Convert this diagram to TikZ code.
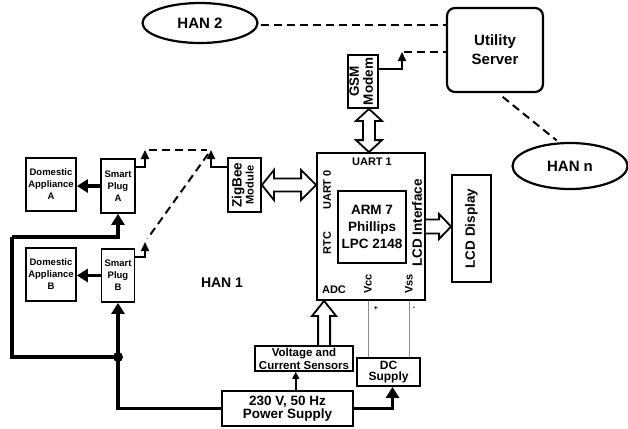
\documentclass[tikz,border=0pt]{standalone}
\usepackage{fontspec}
\setmainfont{Liberation Sans}
\usepackage{graphicx}
\usetikzlibrary{arrows.meta, positioning, calc, shapes}
\newcommand{\rotlabel}[1]{\rotatebox{90}{\begin{tabular}{@{}c@{}}#1\end{tabular}}}
\newcommand{\fsz}[2]{\fontsize{#1}{#2}\selectfont\bfseries}
\tikzset{
  box/.style={draw, line width=1.8pt, inner sep=1pt, align=center},
  han/.style={ellipse, draw, line width=2.2pt, font=\fsz{15}{18}},
  power/.style={line width=3.2pt, -{Triangle[length=11pt,width=13pt]}},
  feed/.style={line width=3.2pt},
  antenna/.style={line width=2pt, -{Triangle[length=9pt,width=8pt]}},
  link/.style={line width=2pt, dash pattern=on 8pt off 5pt},
  hollow/.style={draw, line width=1.8pt, fill=white, line join=miter},
  sig/.style={line width=1.6pt, -{Triangle[length=7pt,width=7pt]}},
  wire/.style={black!45, line width=0.9pt},
  lbl/.style={inner sep=0pt, font=\fsz{11}{13}}
}
\begin{document}
\begin{tikzpicture}[x=1pt, y=-1pt]
  \useasboundingbox (0,0) rectangle (628,428);
  % Networks and server
  \node[han, minimum width=115pt, minimum height=40pt] (han2) at (200,23) {HAN 2};
  \node[han, minimum width=115pt, minimum height=46pt] (hann) at (570,166) {HAN n};
  \node[box, rounded corners=8pt, line width=2.2pt, minimum width=96pt, minimum height=84pt,
        font=\fsz{15}{19}] (server) at (495,50) {Utility\\Server};
  % Controller
  \node[box, minimum width=108pt, minimum height=147pt] (cpu) at (371,226.5) {};
  \node[box, minimum width=68pt, minimum height=72pt, font=\fsz{13.5}{17}] (arm) at (372,227)
    {ARM 7\\Phillips\\LPC 2148};
  \node[lbl] (uart1) at (372,162) {UART 1};
  \node[lbl, rotate=90] (uart0) at (327,190) {UART 0};
  \node[lbl, rotate=90] (rtc) at (327,243) {RTC};
  \node[lbl, rotate=90, font=\fsz{13.5}{16}] (lcdif) at (417,223) {LCD Interface};
  \node[lbl] (adc) at (334,290) {ADC};
  \node[lbl, rotate=90] (vcc) at (368,284) {Vcc};
  \node[lbl, rotate=90] (vss) at (409,284) {Vss};
  % Modules
  \node[box, minimum width=23pt, minimum height=53pt, font=\fsz{13.5}{14}] (gsm) at (363,81.5)
    {\rotlabel{GSM\\Modem}};
  \node[box, minimum width=33pt, minimum height=54pt] (zigbee) at (244.5,185)
    {\rotlabel{\fsz{13.5}{14}ZigBee\\\fsz{11}{12}Module}};
  \node[box, minimum width=39pt, minimum height=107pt, font=\fsz{13.5}{16}] (lcd) at (471.5,228.5)
    {\rotatebox{90}{LCD Display}};
  % Home side
  \node[box, minimum width=50pt, minimum height=53pt, font=\fsz{9.5}{12}] (daA) at (51,184.5)
    {Domestic\\Appliance\\A};
  \node[box, minimum width=34pt, minimum height=54pt, font=\fsz{9.5}{12}] (plugA) at (118,186)
    {Smart\\Plug\\A};
  \node[box, minimum width=50pt, minimum height=53pt, font=\fsz{9.5}{12}] (daB) at (51,274.5)
    {Domestic\\Appliance\\B};
  \node[box, minimum width=33pt, minimum height=53pt, font=\fsz{9.5}{12}] (plugB) at (118,275.5)
    {Smart\\Plug\\B};
  \node[font=\fsz{14}{16}] (han1) at (222,283) {HAN 1};
  % Supplies
  \node[box, minimum width=131pt, minimum height=35pt, font=\fsz{13.5}{13.5}] (psu) at (287.5,408.5)
    {230 V, 50 Hz\\Power Supply};
  \node[box, minimum width=98pt, minimum height=25pt, font=\fsz{11.5}{13}] (sens) at (304,358.5)
    {Voltage and\\Current Sensors};
  \node[box, minimum width=63pt, minimum height=28pt, font=\fsz{12}{11}] (dc) at (388.5,372)
    {DC\\Supply};
  \node[inner sep=0pt, font=\fsz{7}{8}] (plus) at (376,308) {+};
  \node[inner sep=0pt, font=\fsz{7}{8}] (minus) at (414,308) {-};

  % Antennas
  \coordinate (antA) at (145,150);
  \coordinate (antB) at (145,242);
  \coordinate (antZ) at (211,150);
  \coordinate (antG) at (402,52);
  \draw[antenna] ($(plugA.north east)+(0,9)$) -| (antA);
  \draw[antenna] ($(plugB.north east)+(0,9)$) -| (antB);
  \draw[antenna] ($(zigbee.north west)+(0,10)$) -| (antZ);
  \draw[antenna] ($(gsm.north east)+(0,15)$) -| (antG);
  % Wireless links
  \coordinate (h2) at ($(han2.east)+(0,2)$);
  \draw[link, shorten <=4pt, shorten >=4pt] (antA) -- (antZ);
  \draw[link, shorten <=5pt, shorten >=4pt] (antZ) -- (antB);
  \draw[link, shorten <=2pt] (antG) -- (antG -| server.west);
  \draw[link, shorten <=2pt] (h2) -- (h2 -| server.west);
  \draw[link, shorten <=6pt, shorten >=3pt] ($(server.south)+(3,0)$) -- (hann.115);

  % Power wiring
  \coordinate (junc) at (118,357);
  \coordinate (loopL) at (12,237);
  \draw[power] (plugA.west) -- (plugA.west -| daA.east);
  \draw[power] (plugB.west) -- (plugB.west -| daB.east);
  \draw[power] (junc) -- (plugB.south);
  \draw[feed, line join=miter] (junc) -| (loopL);
  \draw[power, line join=miter] (loopL) -| (plugA.south);
  \draw[feed, line join=miter] (psu.west) -| (junc);
  \fill (junc) circle (5pt);
  \draw[power, line join=miter] (psu.east) -| ($(dc.south)+(4,0)$);
  \coordinate (sensin) at ($(psu.north)!0.5!(sens.south)$);
  \draw[sig] (sensin |- psu.north) -- (sensin |- sens.south);
  \draw[wire] (vcc |- cpu.south) -- (vcc |- dc.north);
  \draw[wire] (vss |- cpu.south) -- (vss |- dc.north);

  % Bus arrows
  \coordinate (gtop) at ($(gsm.south)+(6,0)$);
  \coordinate (gbot) at (gtop |- cpu.north);
  \draw[hollow] (gtop) -- ++(13,12) -- ++(-7,0) -- ($(gbot)+(6,-12)$) -- ++(7,0) -- (gbot)
    -- ++(-13,-12) -- ++(7,0) -- ($(gtop)+(-6,12)$) -- ++(-7,0) -- cycle;
  \coordinate (zl) at (zigbee.east);
  \coordinate (zr) at (zl -| cpu.west);
  \draw[hollow] (zl) -- ++(12,-15) -- ++(0,8.5) -- ($(zr)+(-15,-6.5)$) -- ++(0,-8.5) -- (zr)
    -- ++(-15,15) -- ++(0,-8.5) -- ($(zl)+(12,6.5)$) -- ++(0,8.5) -- cycle;
  \coordinate (lt) at (cpu.east -| lcd.west);
  \draw[hollow] ($(cpu.east)+(0,-7)$) -- ($(lt)+(-12,-7)$) -- ++(0,-5.5) -- (lt) -- ++(-12,12.5)
    -- ++(0,-5.5) -- ($(cpu.east)+(0,7)$);
  \coordinate (adcin) at ($(cpu.south west)+(8,0)$);
  \draw[hollow] ($(adcin |- sens.north)+(-6,0)$) -- ($(adcin)+(-6,15)$) -- ++(-6,0) -- (adcin)
    -- ++(12,15) -- ++(-6,0) -- ($(adcin |- sens.north)+(6,0)$);
\end{tikzpicture}
\end{document}
